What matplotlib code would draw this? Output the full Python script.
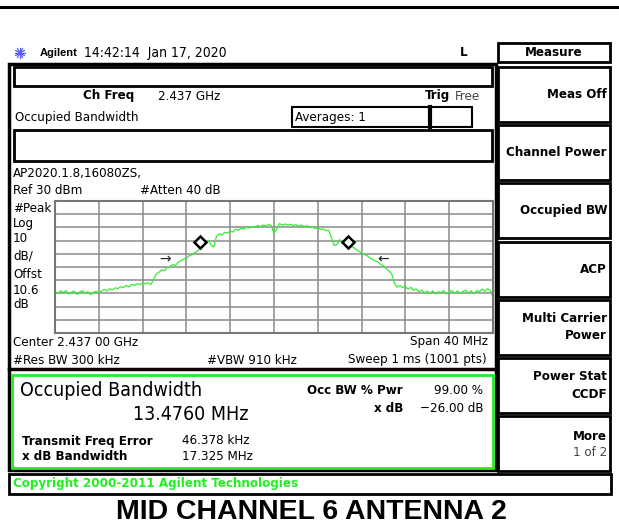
import matplotlib
matplotlib.use('Agg')
import matplotlib.pyplot as plt
from matplotlib.patches import Rectangle
import numpy as np

# trace, dBm, evenly spaced over the 40 MHz span
levels = [
    -38.5, -40.2, -38.0, -39.6, -37.8, -40.5, -39.1, -38.3, -40.8, -39.0,
    -37.9, -40.1, -38.6, -41.0, -39.2, -38.4, -39.5, -38.2, -37.0, -38.1,
    -36.5, -37.3, -35.8, -36.4, -34.9, -35.6, -34.0, -35.1, -33.2, -34.0,
    -32.6, -33.5, -32.0, -32.8, -31.9, -33.4, -29.5, -25.2, -24.0, -22.1,
    -22.8, -20.3, -19.5, -18.2, -18.8, -16.4, -15.1, -14.0, -13.5, -11.4,
    -10.9, -9.2, -8.1, -5.8, -4.2, -1.9, 0.3, -3.4, -4.8, 3.2,
    5.1, 4.2, 6.3, 5.6, 7.4, 6.5, 8.6, 7.8, 9.4, 8.7,
    10.2, 9.5, 10.8, 10.1, 11.5, 10.6, 11.8, 11.1, 12.3, 11.4,
    5.5, 8.8, 12.9, 11.8, 12.6, 11.7, 12.4, 11.3, 12.1, 11.0,
    11.7, 10.6, 11.2, 9.8, 10.5, 9.1, 9.6, 8.4, 8.9, 7.5,
    7.9, 2.0, -3.8, -3.0, 0.6, -0.4, -1.5, -2.8, -4.0, -5.2,
    -6.6, -7.9, -9.5, -10.6, -11.4, -13.2, -14.1, -15.5, -16.2, -18.0,
    -19.1, -21.3, -23.2, -25.0, -32.5, -35.3, -34.0, -35.6, -34.8, -36.9,
    -35.4, -37.8, -36.6, -38.9, -37.5, -39.6, -38.3, -39.9, -38.1, -40.2,
    -38.7, -39.5, -38.0, -40.4, -38.9, -37.7, -39.8, -38.2, -40.0, -38.5,
    -37.6, -39.7, -38.1, -40.3, -37.9, -38.8, -36.8, -38.4, -36.5, -37.9,
    -42.5,
]
span_mhz = 40
ref_level = 30
db_per_div = 10
occ_bw_mhz = 13.4760
xdb_bw_mhz = 17.325
marker_level = -1.3
arrow_level = -14

left_labels = ['#Peak', 'Log', '10', 'dB/', 'Offst', '10.6', 'dB']
left_label_y = [208, 223, 239, 256, 274, 290, 304]
softkeys = ['Meas Off', 'Channel Power', 'Occupied BW', 'ACP',
            'Multi Carrier\nPower', 'Power Stat\nCCDF', 'More']

W, H = 619, 527
fig = plt.figure(figsize=(W / 100, H / 100), dpi=100)
bg = fig.add_axes([0, 0, 1, 1])
bg.set_xlim(0, W)
bg.set_ylim(H, 0)
bg.axis('off')

GREEN = '#22ee22'


def t(x, y, s, size=9.5, weight='normal', ha='left', color='black', **kw):
    bg.text(x, y, s, fontsize=size, fontweight=weight, ha=ha, va='center',
            color=color, fontstretch='condensed', family='DejaVu Sans', **kw)


def box(x0, y0, x1, y1, lw=2, color='black'):
    bg.add_patch(Rectangle((x0, y0), x1 - x0, y1 - y0, fill=False,
                           lw=lw, edgecolor=color))


# top rule
bg.plot([0, W], [7, 7], color='black', lw=2.2)

# header
for a in np.linspace(0, np.pi, 6, endpoint=False):
    bg.plot([20 - 5 * np.cos(a), 20 + 5 * np.cos(a)],
            [53 - 5 * np.sin(a), 53 + 5 * np.sin(a)], color='#5555ff', lw=0.9)
bg.text(40, 53, 'Agilent', fontsize=8, fontweight='bold', va='center',
        family='Liberation Sans')
t(84, 53, '14:42:14  Jan 17, 2020', size=10)
t(460, 53, 'L', weight='bold')

# main frame
box(9, 64, 496, 470, lw=2.5)
bg.plot([9, 496], [369, 369], color='black', lw=2.5)
box(14, 67, 492, 86)
box(14, 130, 492, 161)
box(292, 107, 430, 127, lw=1.5)
box(430, 107, 472, 127, lw=1.5)
bg.plot([430, 430], [107, 127], color='black', lw=3)

t(83, 96, 'Ch Freq', weight='bold')
t(158, 96, '2.437 GHz')
t(425, 96, 'Trig', weight='bold')
t(455, 96, 'Free', color='#444444')
t(15, 118, 'Occupied Bandwidth')
t(295, 117, 'Averages: 1')
t(13, 173, 'AP2020.1.8,16080ZS,')
t(13, 191, 'Ref 30 dBm')
t(140, 191, '#Atten 40 dB')
for lab, yy in zip(left_labels, left_label_y):
    t(13, yy, lab)
t(13, 342, 'Center 2.437 00 GHz')
t(488, 342, 'Span 40 MHz', ha='right')
t(13, 360, '#Res BW 300 kHz')
t(207, 360, '#VBW 910 kHz')
t(487, 360, 'Sweep 1 ms (1001 pts)', ha='right')

# spectrum graticule
gx0, gx1, gy0, gy1 = 55, 493, 201, 333
ax = fig.add_axes([gx0 / W, 1 - gy1 / H, (gx1 - gx0) / W, (gy1 - gy0) / H])
half = span_mhz / 2
bottom = ref_level - 10 * db_per_div
ax.set_xlim(-half, half)
ax.set_ylim(bottom, ref_level)
ax.set_xticks(np.linspace(-half, half, 11))
ax.set_yticks(np.linspace(bottom, ref_level, 11))
ax.grid(True, color='#8a8a8a', lw=1.1)
ax.tick_params(length=0, labelbottom=False, labelleft=False)
for sp in ax.spines.values():
    sp.set_color('#777777')
    sp.set_linewidth(1.5)
freqs = np.linspace(-half, half, len(levels))
ax.plot(freqs, levels, color='#33ee33', lw=0.9, clip_on=True)
ax.plot([-occ_bw_mhz / 2, occ_bw_mhz / 2], [marker_level, marker_level],
        ls='none', marker='D', ms=6.5, mfc='white', mec='black', mew=1.8)
ax.text(-xdb_bw_mhz / 2 - 1.3, arrow_level, '\u2192', fontsize=10,
        ha='center', va='center', color='#222222')
ax.text(xdb_bw_mhz / 2 + 1.3, arrow_level, '\u2190', fontsize=10,
        ha='center', va='center', color='#222222')

# result panel
box(12, 375, 493, 468, lw=2, color=GREEN)
t(20, 390, 'Occupied Bandwidth', size=14)
t(133, 415, '%.4f MHz' % occ_bw_mhz, size=14)
t(22, 441, 'Transmit Freq Error', weight='bold')
t(182, 441, '46.378 kHz')
t(22, 457, 'x dB Bandwidth', weight='bold')
t(182, 457, '%.3f MHz' % xdb_bw_mhz)
t(403, 390, 'Occ BW % Pwr', weight='bold', ha='right')
t(483, 390, '99.00 %', ha='right')
t(403, 408, 'x dB', weight='bold', ha='right')
t(483, 408, '\u221226.00 dB', ha='right')

# copyright bar
box(9, 474, 611, 494)
t(13, 484, 'Copyright 2000-2011 Agilent Technologies', weight='bold',
  color=GREEN)

# softkeys
box(498, 43, 610, 62)
t(554, 53, 'Measure', weight='bold', ha='center')
key_top = 67
for i, name in enumerate(softkeys):
    y0 = key_top + i * 58.2
    box(498, y0, 610, y0 + 55)
    lines = name.split('\n')
    if len(lines) == 1 and name != 'More':
        t(607, y0 + 27.5, name, weight='bold', ha='right')
    elif name == 'More':
        t(607, y0 + 20, 'More', weight='bold', ha='right')
        t(607, y0 + 36, '1 of 2', ha='right', color='#444444')
    else:
        t(607, y0 + 19, lines[0], weight='bold', ha='right')
        t(607, y0 + 36, lines[1], weight='bold', ha='right')

# caption
bg.text(311, 512, 'MID CHANNEL 6 ANTENNA 2', fontsize=20.5, fontweight='bold',
        ha='center', va='center', family='Liberation Sans')

fig.savefig('out.png', dpi=100)
